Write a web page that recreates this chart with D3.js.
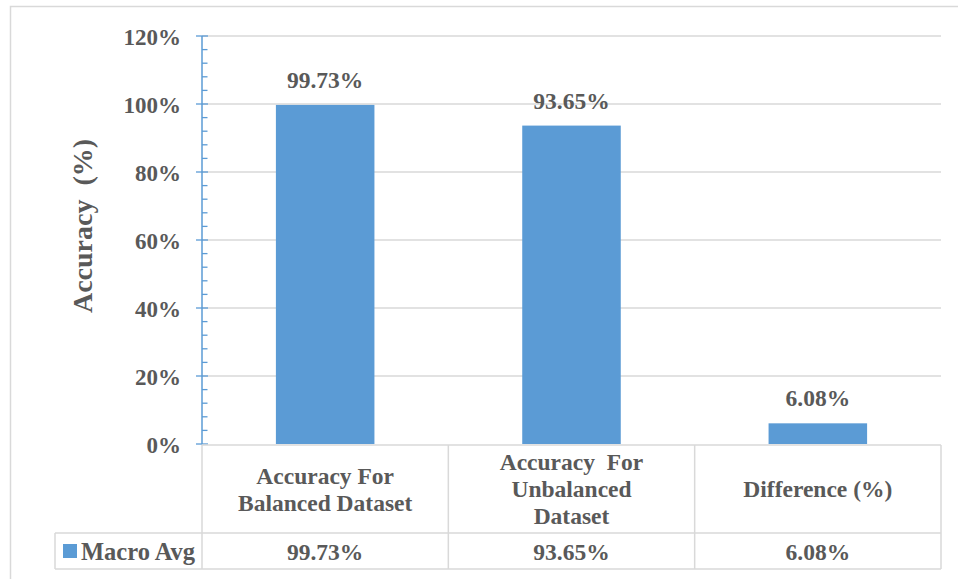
<!DOCTYPE html>
<html>
<head>
<meta charset="utf-8">
<script src="https://cdn.jsdelivr.net/npm/d3@7"></script>
<style>
  html, body { margin: 0; padding: 0; background: #fff; }
  svg { display: block; }
  svg text { font-family: 'Liberation Serif', 'Tinos', 'Times New Roman', 'DejaVu Serif', serif; font-weight: bold; fill: #595959; }
</style>
</head>
<body>
<svg id="chart" width="958" height="579"></svg>
<script>
// Categories (multi-line labels) and the single series
const categories = ["Accuracy For Balanced Dataset", "Accuracy  For Unbalanced Dataset", "Difference (%)"];
const categoryLines = [["Accuracy For", "Balanced Dataset"], ["Accuracy  For", "Unbalanced", "Dataset"], ["Difference (%)"]];
const seriesName = "Macro Avg";
const macroAvg = [99.73, 93.65, 6.08];
const yTicks = [0, 20, 40, 60, 80, 100, 120];

(function () {
const svg = d3.select("#chart");
const W = 958, H = 579;
const blue = "#5b9bd5", grid = "#d9d9d9";
const serif = "'Liberation Serif', 'Tinos', 'Times New Roman', 'DejaVu Serif', serif";

// Outer chart frame
svg.append("rect").attr("x", 10.5).attr("y", 6.5).attr("width", W + 10).attr("height", H + 20)
  .attr("fill", "#fff").attr("stroke", grid).attr("stroke-width", 1.5);

const pLeft = 202, pRight = 941, pTop = 36, pBottom = 444;
const fmt = v => v.toFixed(2) + "%";

const x = d3.scaleBand().domain(categories).range([pLeft, pRight]).padding(0);
const y = d3.scaleLinear().domain([0, 120]).range([pBottom, pTop]);
const barW = x.bandwidth() * 0.4;

// Horizontal gridlines
svg.append("g").selectAll("line").data(yTicks.filter(t => t > 0)).join("line")
  .attr("x1", pLeft).attr("x2", pRight)
  .attr("y1", d => y(d)).attr("y2", d => y(d))
  .attr("stroke", grid).attr("stroke-width", 1.5);

// Bars
svg.append("g").selectAll("rect").data(macroAvg).join("rect")
  .attr("x", (d, i) => x(categories[i]) + (x.bandwidth() - barW) / 2)
  .attr("width", barW)
  .attr("y", d => y(d))
  .attr("height", d => y(0) - y(d))
  .attr("fill", blue);

// Value labels
svg.append("g").selectAll("text").data(macroAvg).join("text")
  .attr("x", (d, i) => x(categories[i]) + x.bandwidth() / 2)
  .attr("y", d => y(d) - 17)
  .attr("text-anchor", "middle")
  .attr("font-size", 23.5)
  .attr("font-family", serif)
  .text(d => fmt(d));

// Y axis: labels from d3 axis, ticks drawn from the same scale
const yAxis = svg.append("g").attr("transform", `translate(${pLeft},0)`)
  .call(d3.axisLeft(y).tickValues(yTicks).tickFormat(d => d + "%").tickSize(0).tickPadding(21));
yAxis.attr("font-family", serif).attr("font-size", 23);
yAxis.select(".domain").remove();
yAxis.selectAll("text").attr("font-size", 23).attr("fill", "#595959").attr("font-family", serif)
  .attr("font-weight", "bold").attr("dy", "0.36em");

const minor = d3.range(0, 121, 4).filter(v => v % 20 !== 0);
svg.append("g").selectAll("line").data(minor).join("line")
  .attr("x1", pLeft).attr("x2", pLeft + 5.5)
  .attr("y1", d => y(d)).attr("y2", d => y(d))
  .attr("stroke", blue).attr("stroke-width", 1.3);
svg.append("g").selectAll("line").data(yTicks).join("line")
  .attr("x1", pLeft - 6).attr("x2", pLeft + 6)
  .attr("y1", d => y(d)).attr("y2", d => y(d))
  .attr("stroke", blue).attr("stroke-width", 1.3);
svg.append("line").attr("x1", pLeft).attr("x2", pLeft).attr("y1", y(120)).attr("y2", y(0))
  .attr("stroke", blue).attr("stroke-width", 1.5);

// Axis title
svg.append("text")
  .attr("transform", "translate(92,226) rotate(-90)")
  .attr("text-anchor", "middle")
  .attr("font-size", 28)
  .attr("font-family", serif)
  .attr("xml:space", "preserve")
  .style("white-space", "pre")
  .text("Accuracy  (%)");

// Data table under the axis
const rowTop = pBottom + 1, rowMid = 533, rowBot = 569, legendLeft = 55;
const tbl = svg.append("g").attr("stroke", grid).attr("stroke-width", 1.5);
tbl.append("line").attr("x1", pLeft).attr("x2", pRight).attr("y1", rowTop).attr("y2", rowTop);
tbl.append("line").attr("x1", legendLeft).attr("x2", pRight).attr("y1", rowMid).attr("y2", rowMid);
tbl.append("line").attr("x1", legendLeft).attr("x2", pRight).attr("y1", rowBot).attr("y2", rowBot);
tbl.append("line").attr("x1", legendLeft).attr("x2", legendLeft).attr("y1", rowMid).attr("y2", rowBot);
const vx = categories.map(c => x(c)).concat([pRight]);
tbl.selectAll("line.v").data(vx).join("line").attr("class", "v")
  .attr("x1", d => d).attr("x2", d => d).attr("y1", rowTop).attr("y2", rowBot);

// Category labels (header row)
const lineH = 27;
categoryLines.forEach((lines, i) => {
  const cx = x(categories[i]) + x.bandwidth() / 2;
  const cy = (rowTop + rowMid) / 2;
  const t = svg.append("text").attr("text-anchor", "middle").attr("font-size", 23.5)
    .attr("font-family", serif)
    .attr("xml:space", "preserve").style("white-space", "pre");
  lines.forEach((ln, k) => {
    t.append("tspan").attr("x", cx)
      .attr("y", cy + (k - (lines.length - 1) / 2) * lineH + 8)
      .text(ln);
  });
});

// Value row
svg.append("g").selectAll("text").data(macroAvg).join("text")
  .attr("x", (d, i) => x(categories[i]) + x.bandwidth() / 2)
  .attr("y", 560)
  .attr("text-anchor", "middle")
  .attr("font-size", 23.5)
  .attr("font-family", serif)
  .text(d => fmt(d));

// Legend key
svg.append("rect").attr("x", 63).attr("y", 544).attr("width", 14).attr("height", 14).attr("fill", blue);
svg.append("text").attr("x", 81).attr("y", 560).attr("font-size", 24.5).attr("font-family", serif).text(seriesName);
})();
</script>
</body>
</html>
